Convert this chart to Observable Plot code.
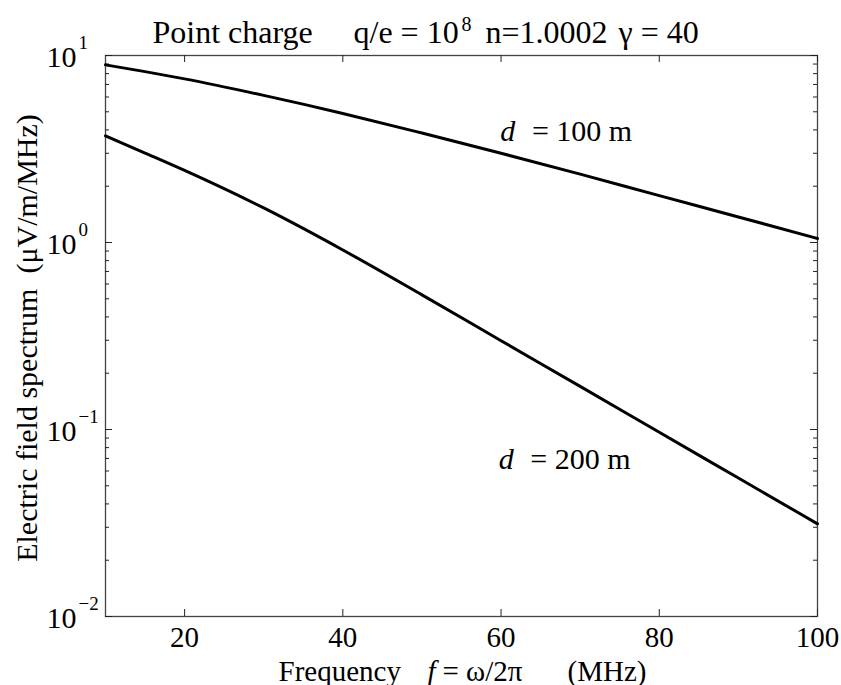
<!DOCTYPE html>
<html><head><meta charset="utf-8">
<script src="https://cdn.jsdelivr.net/npm/d3@7"></script>
<script src="https://cdn.jsdelivr.net/npm/@observablehq/plot@0.6"></script>
<style>body{margin:0;background:#fff}</style>
</head><body><div id="chart"></div>
<script>
// Data
const freq = [10, 15, 20, 30, 40, 50, 60, 70, 80, 90, 100];            // MHz
const spectrum100 = [8.91, 8.20, 7.50, 6.12, 4.90, 3.85, 3.00, 2.32, 1.78, 1.37, 1.05];      // d = 100 m
const spectrum200 = [3.72, 3.01, 2.43, 1.53, 0.912, 0.525, 0.2985, 0.170, 0.0966, 0.055, 0.0313]; // d = 200 m
const xTicks = [20, 40, 60, 80, 100];
const yMajor = [0.01, 0.1, 1, 10];
const yExponents = ["−2", "−1", "0", "1"];
const yMinor = [0.02,0.03,0.04,0.05,0.06,0.07,0.08,0.09,0.2,0.3,0.4,0.5,0.6,0.7,0.8,0.9,2,3,4,5,6,7,8,9];
const curveLabels = [
  {x: 59.9, y: 3.48, d: "d", rest: "= 100 m", xr: 63.9},
  {x: 59.7, y: 0.0618, d: "d", rest: "= 200 m", xr: 63.7}
];

const W = 841, H = 685, mL = 105, mR = 24, mT = 55, mB = 69;
const fw = W - mL - mR, fh = H - mT - mB;
const serif = "'Liberation Serif','Times New Roman',serif";

const rows = [
  ...freq.map((f, i) => ({f, v: spectrum100[i], d: "100"})),
  ...freq.map((f, i) => ({f, v: spectrum200[i], d: "200"}))
];

const txt = (s, o) => Plot.text([s], {text: d => d, fill: "black", fontFamily: serif, textAnchor: "start", lineAnchor: "bottom", ...o});

const chart = Plot.plot({
  width: W, height: H,
  marginLeft: mL, marginRight: mR, marginTop: mT, marginBottom: mB,
  style: {fontFamily: serif, background: "#fff", color: "black"},
  x: {domain: [10, 100]},
  y: {type: "log", domain: [0.01, 10], axis: null},
  marks: [
    Plot.frame({stroke: "#444", strokeWidth: 1.3}),
    // inward ticks
    Plot.tickX(xTicks, {x: d => d, insetTop: fh - 7, stroke: "#222"}),
    Plot.tickX(xTicks, {x: d => d, insetBottom: fh - 7, stroke: "#222"}),
    Plot.tickY(yMajor, {y: d => d, insetRight: fw - 7, stroke: "#222"}),
    Plot.tickY(yMajor, {y: d => d, insetLeft: fw - 7, stroke: "#222"}),
    Plot.tickY(yMinor, {y: d => d, insetRight: fw - 4, stroke: "#222"}),
    Plot.tickY(yMinor, {y: d => d, insetLeft: fw - 4, stroke: "#222"}),
    Plot.axisX({ticks: xTicks, tickSize: 0, tickPadding: 10, fontSize: 29, fontFamily: serif, fill: "black", label: null}),
    // y tick labels 10^k
    Plot.text(yMajor, {y: d => d, frameAnchor: "left", text: () => "10", dx: 46 - mL, dy: 11, textAnchor: "start", lineAnchor: "bottom", fontSize: 30, fontFamily: serif, fill: "black"}),
    Plot.text(yMajor, {y: d => d, frameAnchor: "left", text: (d, i) => yExponents[i], dx: 78 - mL, dy: -7, textAnchor: "start", lineAnchor: "bottom", fontSize: 19, fontFamily: serif, fill: "black"}),
    // curves
    Plot.line(rows, {x: "f", y: "v", z: "d", stroke: "black", strokeWidth: 3, curve: "monotone-x"}),
    // curve labels
    Plot.text(curveLabels, {x: "x", y: "y", text: "d", fontStyle: "italic", fontSize: 30, fontFamily: serif, textAnchor: "start", lineAnchor: "bottom", fill: "black"}),
    Plot.text(curveLabels, {x: "xr", y: "y", text: "rest", fontSize: 30, fontFamily: serif, textAnchor: "start", lineAnchor: "bottom", fill: "black"}),
    // title
    txt("Point charge", {frameAnchor: "top-left", dx: 152 - mL, dy: -13, fontSize: 32}),
    txt("q/e = 10", {frameAnchor: "top-left", dx: 353 - mL, dy: -13, fontSize: 32}),
    txt("8", {frameAnchor: "top-left", dx: 461 - mL, dy: -25, fontSize: 20}),
    txt("n=1.0002", {frameAnchor: "top-left", dx: 485 - mL, dy: -13, fontSize: 32}),
    txt("γ = 40", {frameAnchor: "top-left", dx: 618 - mL, dy: -13, fontSize: 32}),
    // x label
    txt("Frequency", {frameAnchor: "bottom-left", dx: 278 - mL, dy: 64, fontSize: 29}),
    txt("f", {frameAnchor: "bottom-left", dx: 427 - mL, dy: 64, fontSize: 29, fontStyle: "italic"}),
    txt("= ω/2π", {frameAnchor: "bottom-left", dx: 442 - mL, dy: 64, fontSize: 29}),
    txt("(MHz)", {frameAnchor: "bottom-left", dx: 567 - mL, dy: 64, fontSize: 29}),
    // y label
    txt("Electric field spectrum\u00a0\u00a0(μV/m/MHz)", {frameAnchor: "left", dx: 36 - mL, dy: 2, rotate: -90, textAnchor: "middle", fontSize: 30})
  ]
});
document.getElementById("chart").appendChild(chart);
</script>
</body></html>
